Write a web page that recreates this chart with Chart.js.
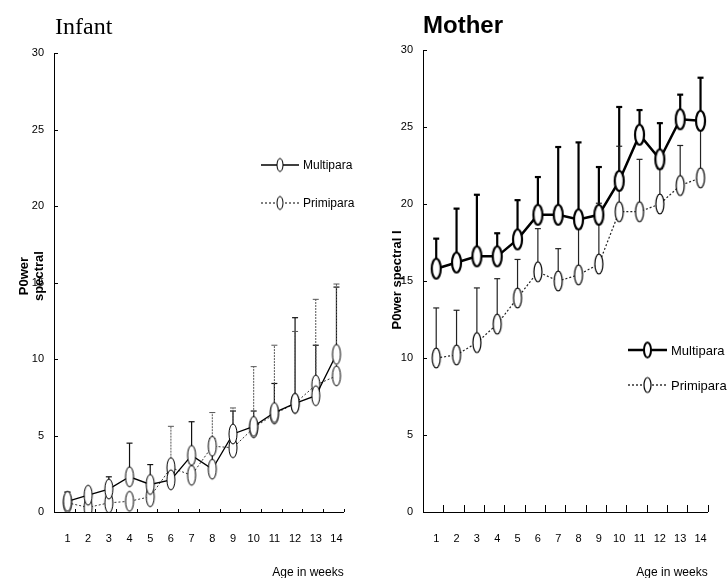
<!DOCTYPE html>
<html>
<head>
<meta charset="utf-8">
<script src="https://cdn.jsdelivr.net/npm/chart.js@4.4.1/dist/chart.umd.min.js"></script>
<style>
  html, body { margin: 0; padding: 0; background: #fff; }
  .wrap { position: absolute; top: 0; height: 578px; }
  #left { left: 0; width: 363px; }
  #right { left: 363px; width: 364px; }
</style>
</head>
<body>
<div class="wrap" id="left"><canvas id="infantChart"></canvas></div>
<div class="wrap" id="right"><canvas id="motherChart"></canvas></div>
<script>
// values (mean and upward SD bar per week)
const weeks = [1, 2, 3, 4, 5, 6, 7, 8, 9, 10, 11, 12, 13, 14];

const infantMulti   = [0.7, 1.1, 1.5, 2.3, 1.8, 2.1, 3.7, 2.8, 5.1, 5.6, 6.5, 7.1, 7.6, 10.3];
const infantMultiSD = [0.6, 0.3, 0.8, 2.2, 1.3, 1.1, 2.2, 2.0, 1.5, 1.0, 1.9, 5.6, 3.3, 4.4];
const infantPrimi   = [0.6, 0.3, 0.6, 0.7, 1.0, 2.9, 2.4, 4.3, 4.2, 5.5, 6.4, 7.1, 8.3, 8.9];
const infantPrimiSD = [0.7, 0.2, 0.3, 0.3, 0.4, 2.7, 0.8, 2.2, 2.6, 4.0, 4.5, 4.7, 5.6, 6.0];

const motherMulti   = [15.8, 16.2, 16.6, 16.6, 17.7, 19.3, 19.3, 19.0, 19.3, 21.5, 24.5, 22.9, 25.5, 25.4];
const motherMultiSD = [1.95, 3.5, 4.0, 1.5, 2.55, 2.45, 4.4, 5.0, 3.1, 4.8, 1.6, 2.35, 1.6, 2.8];
const motherPrimi   = [10.0, 10.2, 11.0, 12.2, 13.9, 15.6, 15.0, 15.4, 16.1, 19.5, 19.5, 20.0, 21.2, 21.7];
const motherPrimiSD = [3.25, 2.9, 3.55, 2.95, 2.5, 2.8, 2.1, 3.0, 3.95, 4.25, 3.4, 2.3, 2.6, 3.3];

const yTicks = [0, 5, 10, 15, 20, 25, 30];
const seriesNames = ['Multipara', 'Primipara'];

const SANS = '"Liberation Sans", Arial, sans-serif';

function ellipseMarker(w, h, lw) {
  const c = document.createElement('canvas');
  c.width = w + lw * 2 + 2;
  c.height = h + lw * 2 + 2;
  const ctx = c.getContext('2d');
  ctx.beginPath();
  ctx.ellipse(c.width / 2, c.height / 2, w / 2, h / 2, 0, 0, Math.PI * 2);
  ctx.fillStyle = '#fff';
  ctx.fill();
  ctx.lineWidth = lw;
  ctx.strokeStyle = '#000';
  ctx.stroke();
  return c;
}

function toPoints(vals) {
  return weeks.map((w, i) => ({ x: w, y: vals[i] }));
}

// SD bars, drawn under the lines and markers
const errorBars = {
  id: 'errorBars',
  beforeDatasetsDraw(chart) {
    const ctx = chart.ctx;
    const ys = chart.scales.y;
    chart.data.datasets.forEach((ds, i) => {
      const meta = chart.getDatasetMeta(i);
      ctx.save();
      ctx.strokeStyle = ds.barColor;
      ctx.lineWidth = ds.barWidth;
      meta.data.forEach((pt, j) => {
        const sd = ds.sd[j];
        if (!sd) return;
        const top = ys.getPixelForValue(ds.data[j].y + sd);
        ctx.setLineDash(ds.barDash || []);
        ctx.beginPath();
        ctx.moveTo(pt.x, pt.y);
        ctx.lineTo(pt.x, top);
        ctx.stroke();
        ctx.setLineDash([]);
        ctx.beginPath();
        ctx.moveTo(pt.x - 3, top);
        ctx.lineTo(pt.x + 3, top);
        ctx.stroke();
      });
      ctx.restore();
    });
  }
};

// inward tick marks, titles, legend, y title
const decorations = {
  id: 'decorations',
  afterDraw(chart, args, o) {
    const ctx = chart.ctx;
    const xs = chart.scales.x, ys = chart.scales.y;
    const area = chart.chartArea;
    ctx.save();
    ctx.strokeStyle = '#000';
    ctx.lineWidth = 1;
    ctx.beginPath();
    weeks.forEach(w => {
      const px = Math.round(xs.getPixelForValue(w + 0.35)) + 0.5;
      ctx.moveTo(px, area.bottom);
      ctx.lineTo(px, area.bottom - o.xTick);
    });
    yTicks.forEach(v => {
      const py = Math.round(ys.getPixelForValue(v)) + 0.5;
      ctx.moveTo(area.left, py);
      ctx.lineTo(area.left + 4, py);
    });
    ctx.stroke();

    // chart title
    ctx.fillStyle = '#000';
    ctx.font = o.titleFont;
    ctx.textAlign = 'left';
    ctx.textBaseline = 'alphabetic';
    ctx.fillText(o.title, o.titleX, o.titleY);

    // y axis title
    ctx.font = o.yFont;
    ctx.textAlign = 'center';
    ctx.textBaseline = 'middle';
    o.yTitle.forEach((line, k) => {
      ctx.save();
      ctx.translate(o.yTitleX + k * o.yTitleGap, o.yTitleY);
      ctx.rotate(-Math.PI / 2);
      ctx.fillText(line, 0, 0);
      ctx.restore();
    });

    // legend
    chart.data.datasets.forEach((ds, i) => {
      const ly = o.legendY[i];
      ctx.save();
      ctx.strokeStyle = '#000';
      ctx.lineWidth = ds.borderWidth;
      ctx.setLineDash(ds.borderDash || []);
      ctx.beginPath();
      ctx.moveTo(o.legendX, ly);
      ctx.lineTo(o.legendX + o.legendLen, ly);
      ctx.stroke();
      ctx.restore();
      const m = o.legendMarkers[i];
      ctx.drawImage(m, o.legendX + o.legendLen / 2 - m.width / 2, ly - m.height / 2);
      ctx.font = o.legendFont;
      ctx.textAlign = 'left';
      ctx.textBaseline = 'middle';
      ctx.fillText(seriesNames[i], o.legendX + o.legendLen + 4, ly + 1);
    });
    ctx.restore();
  }
};

function makeScales(yWidth) {
  return {
    x: {
      type: 'linear',
      min: 0.35,
      max: 14.35,
      afterBuildTicks: s => { s.ticks = weeks.map(w => ({ value: w })); },
      afterFit: s => { s.height = 66; },
      grid: { display: false, drawTicks: false },
      border: { display: true, color: '#000', width: 1 },
      ticks: { color: '#000', font: { family: SANS, size: 11 }, padding: 20, maxRotation: 0, autoSkip: false },
      title: { display: true, text: 'Age in weeks', align: 'end', color: '#000',
               font: { family: SANS, size: 12 }, padding: { top: 0, bottom: -2 } }
    },
    y: {
      type: 'linear',
      min: 0,
      max: 30,
      afterBuildTicks: s => { s.ticks = yTicks.map(v => ({ value: v })); },
      afterFit: s => { s.width = yWidth; },
      grid: { display: false, drawTicks: false },
      border: { display: true, color: '#000', width: 1 },
      ticks: { color: '#000', font: { family: SANS, size: 11 }, padding: 10 }
    }
  };
}

const infMarker = ellipseMarker(8, 20, 1);

new Chart(document.getElementById('infantChart'), {
  type: 'line',
  data: {
    datasets: [
      { data: toPoints(infantMulti), sd: infantMultiSD, borderColor: '#000', borderWidth: 1.3,
        pointStyle: infMarker, barColor: '#111', barWidth: 1.2 },
      { data: toPoints(infantPrimi), sd: infantPrimiSD, borderColor: '#333', borderWidth: 1,
        borderDash: [2, 2], pointStyle: infMarker, barColor: '#555', barWidth: 1, barDash: [2, 1] }
    ]
  },
  options: {
    responsive: true,
    maintainAspectRatio: false,
    animation: false,
    layout: { padding: { left: 0, right: 17, top: 53, bottom: 0 } },
    scales: makeScales(54),
    plugins: {
      legend: { display: false },
      tooltip: { enabled: false },
      decorations: {
        xTick: 3,
        title: 'Infant', titleX: 55, titleY: 34,
        titleFont: '24px "Liberation Serif", "Times New Roman", serif',
        yTitle: ['P0wer', 'spectral'], yTitleX: 24, yTitleGap: 15, yTitleY: 276,
        yFont: 'bold 13px ' + SANS,
        legendX: 261, legendLen: 38, legendY: [165, 203],
        legendMarkers: [ellipseMarker(6, 13, 1), ellipseMarker(6, 13, 1)],
        legendFont: '12px ' + SANS
      }
    }
  },
  plugins: [errorBars, decorations]
});

new Chart(document.getElementById('motherChart'), {
  type: 'line',
  data: {
    datasets: [
      { data: toPoints(motherMulti), sd: motherMultiSD, borderColor: '#000', borderWidth: 2.5,
        pointStyle: ellipseMarker(9, 20, 2.2), barColor: '#000', barWidth: 2.2 },
      { data: toPoints(motherPrimi), sd: motherPrimiSD, borderColor: '#222', borderWidth: 1.2,
        borderDash: [2, 2], pointStyle: ellipseMarker(8, 20, 1.2), barColor: '#222', barWidth: 1.2 }
    ]
  },
  options: {
    responsive: true,
    maintainAspectRatio: false,
    animation: false,
    layout: { padding: { left: 0, right: 14, top: 50, bottom: 0 } },
    scales: makeScales(60),
    plugins: {
      legend: { display: false },
      tooltip: { enabled: false },
      decorations: {
        xTick: 7,
        title: 'Mother', titleX: 60, titleY: 33,
        titleFont: 'bold 24px ' + SANS,
        yTitle: ['P0wer spectral I'], yTitleX: 34, yTitleGap: 0, yTitleY: 280,
        yFont: 'bold 13px ' + SANS,
        legendX: 265, legendLen: 39, legendY: [350, 385],
        legendMarkers: [ellipseMarker(7, 15, 2), ellipseMarker(7, 15, 1.2)],
        legendFont: '13px ' + SANS
      }
    }
  },
  plugins: [errorBars, decorations]
});
</script>
</body>
</html>
